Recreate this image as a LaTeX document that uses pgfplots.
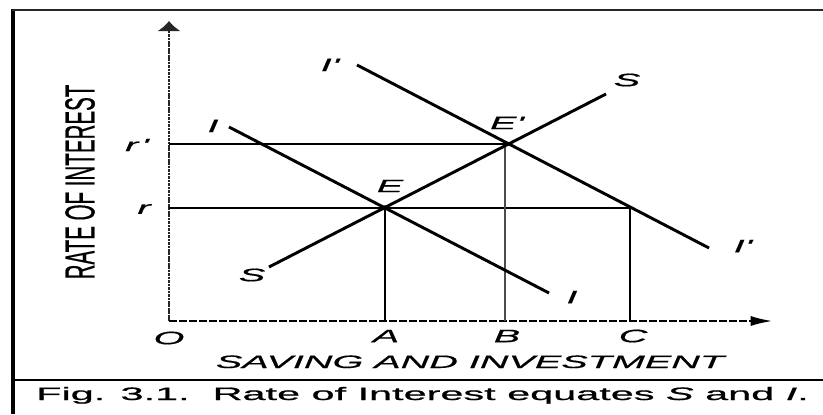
\documentclass[border=0pt]{standalone}
\usepackage{fontspec}
\usepackage{graphicx}
\usepackage{pgfplots}
\pgfplotsset{compat=1.18}
\usetikzlibrary{arrows.meta}
\newfontfamily\labfont[FakeStretch=2.2, FakeBold=0.6]{Liberation Sans}
\newfontfamily\capfont[FakeStretch=2.3, FakeBold=1.0]{Liberation Sans}
\newfontfamily\plainfont[FakeBold=0.6]{Liberation Sans}
\begin{document}
\begin{tikzpicture}
\begin{axis}[name=ax, width=617.25pt, height=310.5pt, scale only axis,
  xmin=0, xmax=823, ymin=0, ymax=414, y dir=reverse, hide axis, clip=false]
% frame
\addplot[black, line width=2.6pt] coordinates {(13,9) (13,414)};
\addplot[black!85, line width=1.5pt] coordinates {(12,10) (823,10)};
\addplot[black, line width=1.5pt] coordinates {(13,380) (823,380)};
% axes
\addplot[black!85, line width=2pt, dash pattern=on 2pt off 0.6pt, -{Latex[length=7.5pt,width=18pt]}] coordinates {(169,321) (169,21)};
\addplot[black, line width=1.1pt, dash pattern=on 6pt off 1.5pt, -{Latex[length=16pt,width=7.5pt]}] coordinates {(169,321) (772,321)};
% guides
\addplot[black, line width=1.1pt] coordinates {(169,144) (505,144)};
\addplot[black, line width=1.1pt] coordinates {(169,208) (630,208)};
\addplot[black, line width=1.6pt] coordinates {(385,208) (385,321)};
\addplot[black!70, line width=2.2pt] coordinates {(505,144) (505,321)};
\addplot[black, line width=1.8pt] coordinates {(630,208) (630,321)};
% curves
\addplot[black, line width=2.2pt] coordinates {(269,267) (606,94)};
\addplot[black, line width=2.2pt] coordinates {(229,127) (549,293)};
\addplot[black, line width=2.2pt] coordinates {(357,65) (709,248)};
\addplot[only marks, mark=*, mark size=1.8pt, black] coordinates {(385,208) (505,144)};
% labels
\begin{scope}[every node/.style={font=\labfont\fontsize{13.5}{16}\selectfont\itshape, inner sep=0pt}]
\node at (axis cs:627,80) {S};
\node at (axis cs:252,275) {S};
\node at (axis cs:213,126) {I};
\node at (axis cs:572,297) {I};
\node at (axis cs:330,65) {I'};
\node at (axis cs:743,246) {I'};
\node at (axis cs:390,186) {E};
\node at (axis cs:507,123) {E'};
\node at (axis cs:137,145) {r\,'};
\node at (axis cs:144,209) {r};
\node at (axis cs:169,338) {O};
\node at (axis cs:386,336) {A};
\node at (axis cs:507,336) {B};
\node at (axis cs:633,336) {C};
\node[anchor=base] at (axis cs:470,368) {SAVING AND INVESTMENT};
\end{scope}
\node[rotate=90, inner sep=0pt, font=\plainfont\fontsize{13.5}{16}\selectfont] at (axis cs:80,182) {\resizebox{146pt}{22pt}{RATE OF INTEREST}};
\node[anchor=base, inner sep=0pt, font=\capfont\fontsize{13.5}{16}\selectfont] at (axis cs:422.5,400) {Fig. 3.1.\ \ Rate of Interest equates \textit{S} and \textit{I}.};
\end{axis}
\pgfresetboundingbox
\path[use as bounding box] (ax.south west) rectangle (ax.north east);
\end{tikzpicture}
\end{document}
